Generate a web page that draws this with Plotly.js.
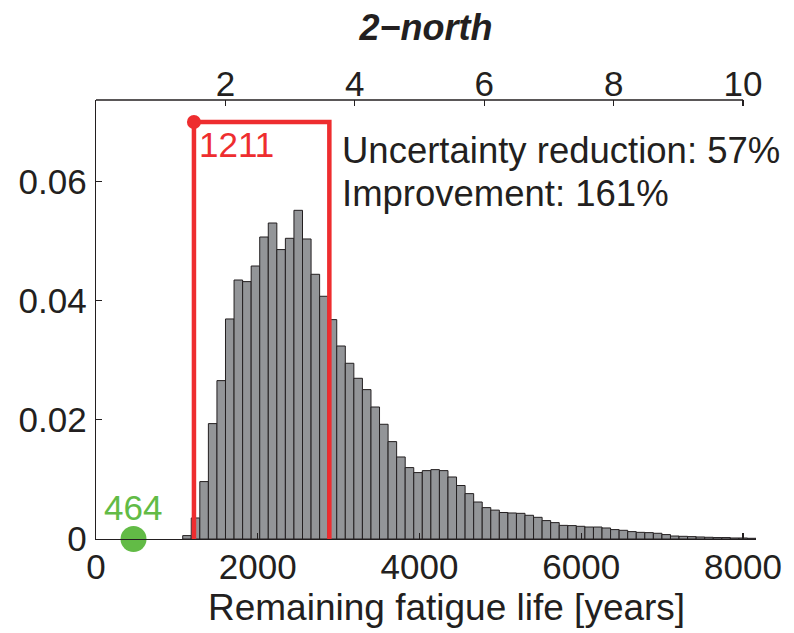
<!DOCTYPE html>
<html>
<head>
<meta charset="utf-8">
<script src="https://cdn.plot.ly/plotly-3.0.1.min.js"></script>
<style>html,body{margin:0;padding:0;background:#fff;}#chart{width:794px;height:633px;}</style>
</head>
<body>
<div id="chart"></div>
<script>
// ---- data ----
const binCenters = [1124.9,1230.7,1336.5,1442.3,1548.1,1653.9,1759.7,1865.5,1971.3,2077.1,
  2182.9,2288.7,2394.5,2500.3,2606.1,2711.9,2817.7,2923.5,3029.3,3135.1,
  3240.9,3346.7,3452.5,3558.3,3664.1,3769.9,3875.7,3981.5,4087.3,4193.1,
  4298.9,4404.7,4510.5,4616.3,4722.1,4827.9,4933.7,5039.5,5145.3,5251.1,
  5356.9,5462.7,5568.5,5674.3,5780.1,5885.9,5991.7,6097.5,6203.3,6309.1,
  6414.9,6520.7,6626.5,6732.3,6838.1,6943.9,7049.7,7155.5,7261.3,7367.1,
  7472.9,7578.7,7684.5,7790.3,7896.1,8001.9,8107.7];
const binWidth = 105.8;
const density = [0.00057,0.00353,0.00964,0.01937,0.02659,0.03694,0.04348,0.04321,0.04583,0.05070,
  0.05305,0.04859,0.05048,0.05518,0.05037,0.04444,0.04075,0.03683,0.03240,0.02950,
  0.02698,0.02508,0.02216,0.01926,0.01635,0.01377,0.01199,0.01115,0.01148,0.01165,
  0.01148,0.01041,0.00898,0.00762,0.00621,0.00527,0.00485,0.00445,0.00437,0.00431,
  0.00398,0.00364,0.00309,0.00275,0.00229,0.00225,0.00213,0.00201,0.00201,0.00185,
  0.00158,0.00146,0.00124,0.00112,0.00107,0.00096,0.00074,0.00050,0.00045,0.00040,
  0.00034,0.00029,0.00024,0.00024,0.00017,0.00017,0.00012];
const lowerBound = 1211;      // red marker (years)
const upperBound = 2885;      // right edge of red bracket
const bracketLevel = 0.07;
const currentLife = 464;      // green marker
const bottomTicks = [0, 2000, 4000, 6000, 8000];
const bottomTickText = ['0', '2000', '4000', '6000', '8000'];
const leftTicks = [0, 0.02, 0.04, 0.06];
const leftTickText = ['0', '0.02', '0.04', '0.06'];
const topTicks = [2, 4, 6, 8, 10];
const topTickText = ['2', '4', '6', '8', '10'];
const yearsPerTopUnit = 800;
const textLines = ['Uncertainty reduction: 57%', 'Improvement: 161%'];
const xTitle = 'Remaining fatigue life [years]';

// ---- styling ----
const FONT = 'Liberation Sans, Arial, Helvetica, sans-serif';
const INK = '#231f20';
const RED = '#ee2d2f';
const GREEN = '#62bb46';
const xMax = 8160;
const yMax = 0.0737;

const traces = [
  {
    type: 'bar', x: binCenters, y: density, width: binWidth,
    marker: {color: '#939598', line: {color: INK, width: 1}},
    hoverinfo: 'skip', showlegend: false
  },
  {
    type: 'scatter', mode: 'lines',
    x: [lowerBound, lowerBound, upperBound, upperBound],
    y: [0, bracketLevel, bracketLevel, 0],
    line: {color: RED, width: 4.5}, hoverinfo: 'skip', showlegend: false
  },
  {
    type: 'scatter', mode: 'markers', x: [lowerBound], y: [bracketLevel],
    marker: {color: RED, size: 14}, cliponaxis: false, hoverinfo: 'skip', showlegend: false
  },
  {
    type: 'scatter', mode: 'markers', x: [currentLife], y: [0],
    marker: {color: GREEN, size: 26}, cliponaxis: false, hoverinfo: 'skip', showlegend: false
  },
  {
    type: 'scatter', mode: 'markers', x: [0], y: [0], xaxis: 'x2',
    marker: {opacity: 0}, hoverinfo: 'skip', showlegend: false
  }
];

const layout = {
  width: 794, height: 633,
  margin: {l: 96, r: 38, t: 100, b: 94, pad: 0},
  paper_bgcolor: '#fff', plot_bgcolor: '#fff',
  font: {family: FONT, color: INK, size: 35},
  bargap: 0,
  title: {
    text: '<b><i>2−north</i></b>',
    font: {family: FONT, size: 36, color: INK},
    x: 0.5365, xanchor: 'center', y: 0.957, yanchor: 'middle'
  },
  xaxis: {
    range: [0, xMax], tickvals: bottomTicks, ticktext: bottomTickText,
    ticks: 'inside', ticklen: 6, tickwidth: 1.2, tickcolor: INK,
    showline: true, linecolor: INK, linewidth: 1.3,
    showgrid: false, zeroline: false, ticklabelstandoff: -3,
    tickfont: {family: FONT, size: 35, color: INK}
  },
  xaxis2: {
    overlaying: 'x', side: 'top', anchor: 'y',
    range: [0, xMax / yearsPerTopUnit], tickvals: topTicks, ticktext: topTickText,
    ticks: 'inside', ticklen: 6, tickwidth: 1.2, tickcolor: INK,
    showline: false, showgrid: false, zeroline: false, ticklabelstandoff: -4,
    tickfont: {family: FONT, size: 35, color: INK}
  },
  yaxis: {
    range: [0, yMax], tickvals: leftTicks, ticktext: leftTickText,
    ticks: 'inside', ticklen: 6, tickwidth: 1.2, tickcolor: INK,
    showline: true, linecolor: INK, linewidth: 1.3,
    showgrid: false, zeroline: false, ticklabelstandoff: 1,
    tickfont: {family: FONT, size: 35, color: INK}
  },
  shapes: [
    {type: 'line', xref: 'x', yref: 'paper', x0: 0, x1: 8000, y0: 1, y1: 1,
     line: {color: INK, width: 1.3}}
  ],
  annotations: [
    {xref: 'x', yref: 'y', x: lowerBound, y: 0.0663, xanchor: 'left', yanchor: 'middle', xshift: 3,
     text: String(lowerBound), showarrow: false, font: {family: FONT, size: 35, color: RED}},
    {xref: 'x', yref: 'y', x: currentLife, y: 0.00537, xanchor: 'center', yanchor: 'middle', xshift: -1,
     text: String(currentLife), showarrow: false, font: {family: FONT, size: 35, color: GREEN}},
    {xref: 'x', yref: 'y', x: 3054, y: 0.06526, xanchor: 'left', yanchor: 'middle', xshift: -3,
     text: textLines[0], showarrow: false, font: {family: FONT, size: 36.5, color: INK}},
    {xref: 'x', yref: 'y', x: 3054, y: 0.05804, xanchor: 'left', yanchor: 'middle', xshift: -3,
     text: textLines[1], showarrow: false, font: {family: FONT, size: 36.5, color: INK}},
    {xref: 'x', yref: 'paper', x: 4330, y: 0, xanchor: 'center', yanchor: 'middle', yshift: -68,
     text: xTitle, showarrow: false, font: {family: FONT, size: 37, color: INK}}
  ]
};

Plotly.newPlot('chart', traces, layout, {staticPlot: true, displayModeBar: false});
</script>
</body>
</html>
